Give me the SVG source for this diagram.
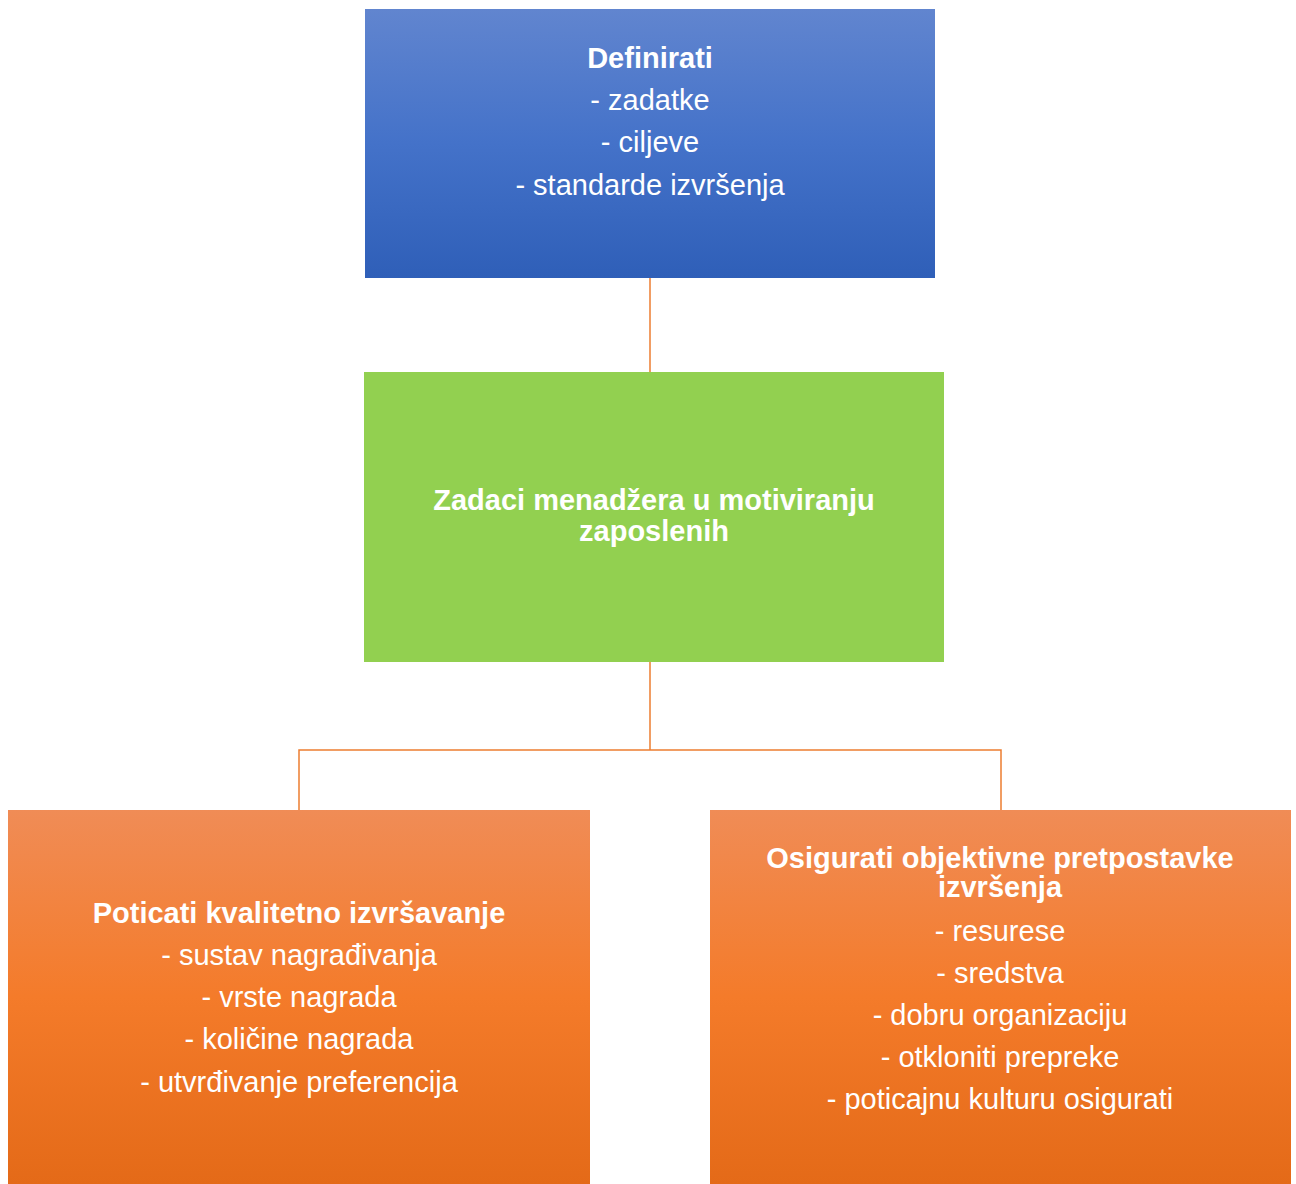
<svg xmlns="http://www.w3.org/2000/svg" width="1296" height="1184" viewBox="0 0 1296 1184">
<style>
.t{font-family:"Liberation Sans",Arial,sans-serif;font-size:29px;fill:#fff;text-anchor:middle}
.b{font-weight:bold}
.c{fill:none;stroke:#ED7D31;stroke-width:1.5}
</style>
<defs>
<linearGradient id="gb" x1="0" y1="0" x2="0" y2="1"><stop offset="0" stop-color="#6185CF"/><stop offset="0.5" stop-color="#4472C9"/><stop offset="1" stop-color="#2F5FB8"/></linearGradient>
<linearGradient id="go" x1="0" y1="0" x2="0" y2="1"><stop offset="0" stop-color="#F08C56"/><stop offset="0.5" stop-color="#F47B2A"/><stop offset="1" stop-color="#E46A18"/></linearGradient>
</defs>
<rect width="1296" height="1184" fill="#fff"/>
<g id="connectors">
<path class="c" d="M650 278V372"/>
<path class="c" d="M650 662V750M299 810V750H1001V810"/>
</g>
<g id="n1">
<rect x="365" y="9" width="570" height="269" fill="url(#gb)"/>
<text class="t b" x="650" y="68">Definirati</text>
<text class="t" x="650" y="110">- zadatke</text>
<text class="t" x="650" y="152">- ciljeve</text>
<text class="t" x="650" y="195">- standarde izvršenja</text>
</g>
<g id="n2">
<rect x="364" y="372" width="580" height="290" fill="#92D050"/>
<text class="t b" x="654" y="510">Zadaci menadžera u motiviranju</text>
<text class="t b" x="654" y="541">zaposlenih</text>
</g>
<g id="n3">
<rect x="8" y="810" width="582" height="374" fill="url(#go)"/>
<text class="t b" x="299" y="923">Poticati kvalitetno izvršavanje</text>
<text class="t" x="299" y="965">- sustav nagrađivanja</text>
<text class="t" x="299" y="1007">- vrste nagrada</text>
<text class="t" x="299" y="1049">- količine nagrada</text>
<text class="t" x="299" y="1092">- utvrđivanje preferencija</text>
</g>
<g id="n4">
<rect x="710" y="810" width="581" height="374" fill="url(#go)"/>
<text class="t b" x="1000" y="868">Osigurati objektivne pretpostavke</text>
<text class="t b" x="1000" y="897">izvršenja</text>
<text class="t" x="1000" y="941">- resurese</text>
<text class="t" x="1000" y="983">- sredstva</text>
<text class="t" x="1000" y="1025">- dobru organizaciju</text>
<text class="t" x="1000" y="1067">- otkloniti prepreke</text>
<text class="t" x="1000" y="1109">- poticajnu kulturu osigurati</text>
</g>
</svg>
